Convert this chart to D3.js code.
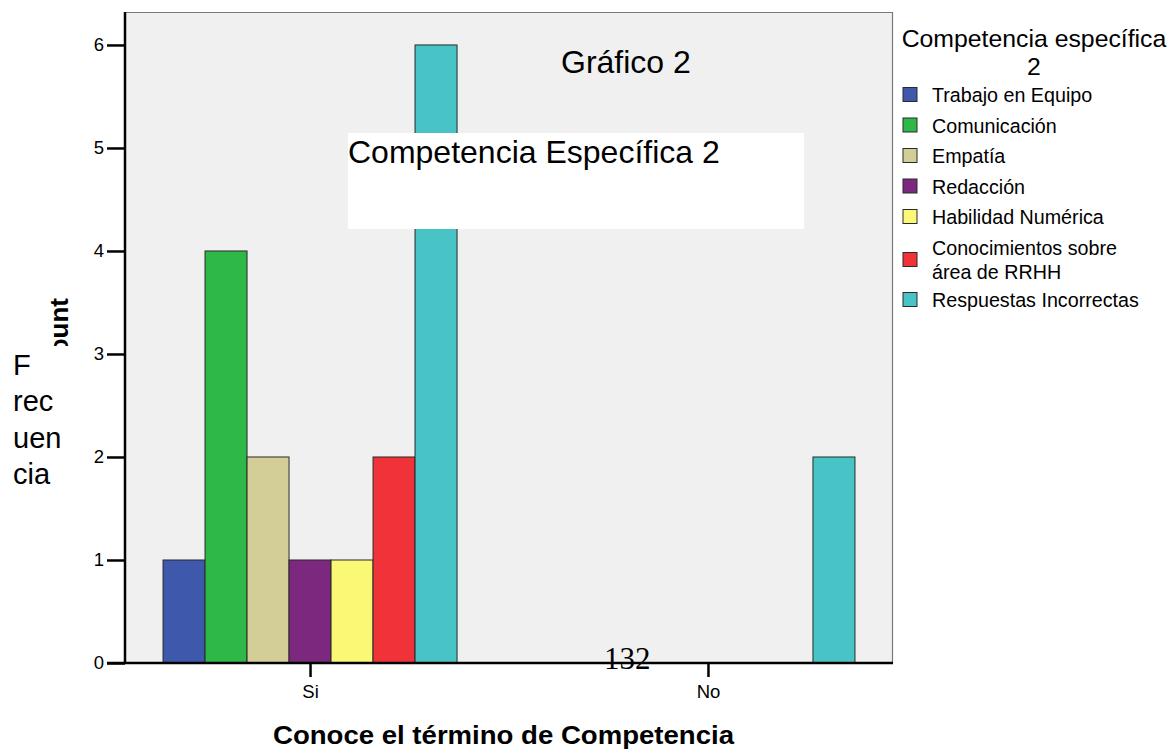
<!DOCTYPE html>
<html>
<head>
<meta charset="utf-8">
<script src="https://cdn.jsdelivr.net/npm/d3@7"></script>
<style>
  html, body { margin: 0; padding: 0; background: #ffffff; }
  svg { display: block; font-family: "Liberation Sans", Arial, sans-serif; }
</style>
</head>
<body>
<svg id="chart" width="1173" height="749"></svg>
<script>
// Answer groups on the x axis
const groups = ["Si", "No"];

// Legend categories (specific competence chosen)
const competencias = [
  "Trabajo en Equipo",
  "Comunicación",
  "Empatía",
  "Redacción",
  "Habilidad Numérica",
  "Conocimientos sobre área de RRHH",
  "Respuestas Incorrectas"
];

// Counts per category for each group
const valuesSi = [1, 4, 2, 1, 1, 2, 6];
const valuesNo = [0, 0, 0, 0, 0, 0, 2];

// Fill colours per category
const colores = ["#3e58ac", "#2eb848", "#d3ce97", "#7b287e", "#fbf876", "#ef3338", "#48c4c7"];

// Y axis ticks
const yTicks = [0, 1, 2, 3, 4, 5, 6];

const svg = d3.select("#chart");

const plot = { left: 125, right: 893, top: 12, bottom: 663 };

const y = d3.scaleLinear().domain([0, 6.32]).range([plot.bottom, plot.top]);
const x = d3.scalePoint().domain(groups).range([plot.left, plot.right]).padding(0.465);
const xSub = d3.scaleBand().domain(competencias).range([-147, 147]).padding(0);
const color = d3.scaleOrdinal().domain(competencias).range(colores);

// Plot background
svg.append("rect")
  .attr("x", plot.left).attr("y", plot.top)
  .attr("width", plot.right - plot.left).attr("height", plot.bottom - plot.top)
  .attr("fill", "#f0f0f0");

// Top and right frame
svg.append("path")
  .attr("d", `M${plot.left},${plot.top + 0.5}H${plot.right - 0.5}V${plot.bottom}`)
  .attr("fill", "none").attr("stroke", "#7a7a7a").attr("stroke-width", 1.2);

// Bars
const rows = groups.map((g, i) => ({
  group: g,
  values: (i === 0 ? valuesSi : valuesNo).map((v, j) => ({ key: competencias[j], value: v }))
}));

const gGroups = svg.append("g").selectAll("g")
  .data(rows).join("g")
  .attr("transform", d => `translate(${x(d.group)},0)`);

gGroups.selectAll("rect")
  .data(d => d.values.filter(v => v.value > 0))
  .join("rect")
  .attr("x", d => xSub(d.key))
  .attr("y", d => y(d.value))
  .attr("width", xSub.bandwidth())
  .attr("height", d => y(0) - y(d.value))
  .attr("fill", d => color(d.key))
  .attr("stroke", "#2a2a2a")
  .attr("stroke-width", 1);

// Page number printed over the plot
svg.append("text")
  .attr("x", 604).attr("y", 669)
  .attr("font-family", "'Liberation Serif', 'Times New Roman', serif")
  .attr("font-size", 31)
  .attr("fill", "#000")
  .text("132");

// Y axis
const yAxis = d3.axisLeft(y).tickValues(yTicks).tickFormat(d3.format("d")).tickSize(18).tickPadding(3);
const gy = svg.append("g").attr("transform", `translate(${plot.left},0)`).call(yAxis);
gy.select(".domain").attr("stroke", "#000").attr("stroke-width", 2.5)
  .attr("d", `M0,${plot.top}V${plot.bottom}`);
gy.selectAll(".tick line").attr("stroke", "#000").attr("stroke-width", 2.5);
gy.selectAll(".tick text").attr("font-size", 18.5).attr("font-family", "'Liberation Sans', Arial, sans-serif").attr("fill", "#000");

// X axis
const xAxis = d3.axisBottom(x).tickSize(14).tickPadding(8);
const gx = svg.append("g").attr("transform", `translate(0,${plot.bottom})`).call(xAxis);
gx.select(".domain").attr("stroke", "#000").attr("stroke-width", 2.5)
  .attr("d", `M${plot.left - 18},0H${plot.right}`);
gx.selectAll(".tick line").attr("stroke", "#000").attr("stroke-width", 2.5);
gx.selectAll(".tick text").attr("font-size", 18.5).attr("font-family", "'Liberation Sans', Arial, sans-serif").attr("fill", "#000");

// X axis title
svg.append("text")
  .attr("x", 273).attr("y", 744)
  .attr("font-size", 26).attr("font-weight", "bold")
  .attr("textLength", 461).attr("lengthAdjust", "spacingAndGlyphs")
  .text("Conoce el término de Competencia");

// Y axis title (partly covered by the label box below)
svg.append("text")
  .attr("transform", "translate(68,298) rotate(-90)")
  .attr("text-anchor", "end")
  .attr("font-size", 26).attr("font-weight", "bold")
  .text("Count");

svg.append("rect")
  .attr("x", 0).attr("y", 346).attr("width", 92).attr("height", 160)
  .attr("fill", "#ffffff");

const freq = ["F", "rec", "uen", "cia"];
svg.append("g").selectAll("text")
  .data(freq).join("text")
  .attr("x", 13)
  .attr("y", (d, i) => 375 + i * 36.3)
  .attr("font-size", 29)
  .text(d => d);

// Titles inside the plot
svg.append("text")
  .attr("x", 561).attr("y", 73)
  .attr("font-size", 32)
  .text("Gráfico 2");

svg.append("rect")
  .attr("x", 348).attr("y", 133).attr("width", 456).attr("height", 96)
  .attr("fill", "#ffffff");

svg.append("text")
  .attr("x", 348).attr("y", 163)
  .attr("font-size", 32)
  .text("Competencia Específica 2");

// Legend
const legend = svg.append("g");
legend.append("text")
  .attr("x", 1034).attr("y", 47)
  .attr("text-anchor", "middle").attr("font-size", 24.8)
  .text("Competencia específica");
legend.append("text")
  .attr("x", 1034).attr("y", 75)
  .attr("text-anchor", "middle").attr("font-size", 24.8)
  .text("2");

const rowY = [95, 125.5, 156, 186.5, 217, 260, 300];
const items = legend.selectAll("g.item")
  .data(competencias).join("g")
  .attr("class", "item")
  .attr("transform", (d, i) => `translate(0,${rowY[i]})`);

items.append("rect")
  .attr("x", 903).attr("y", -7.5).attr("width", 14).attr("height", 14)
  .attr("fill", d => color(d))
  .attr("stroke", "#2a2a2a").attr("stroke-width", 1);

items.each(function(d) {
  const g = d3.select(this);
  const lines = d === "Conocimientos sobre área de RRHH" ? ["Conocimientos sobre", "área de RRHH"] : [d];
  const t = g.append("text").attr("x", 932).attr("font-size", 19.7);
  lines.forEach((ln, k) => {
    t.append("tspan")
      .attr("x", 932)
      .attr("y", 7 + (k - (lines.length - 1) / 2) * 24)
      .text(ln);
  });
});
</script>
</body>
</html>
